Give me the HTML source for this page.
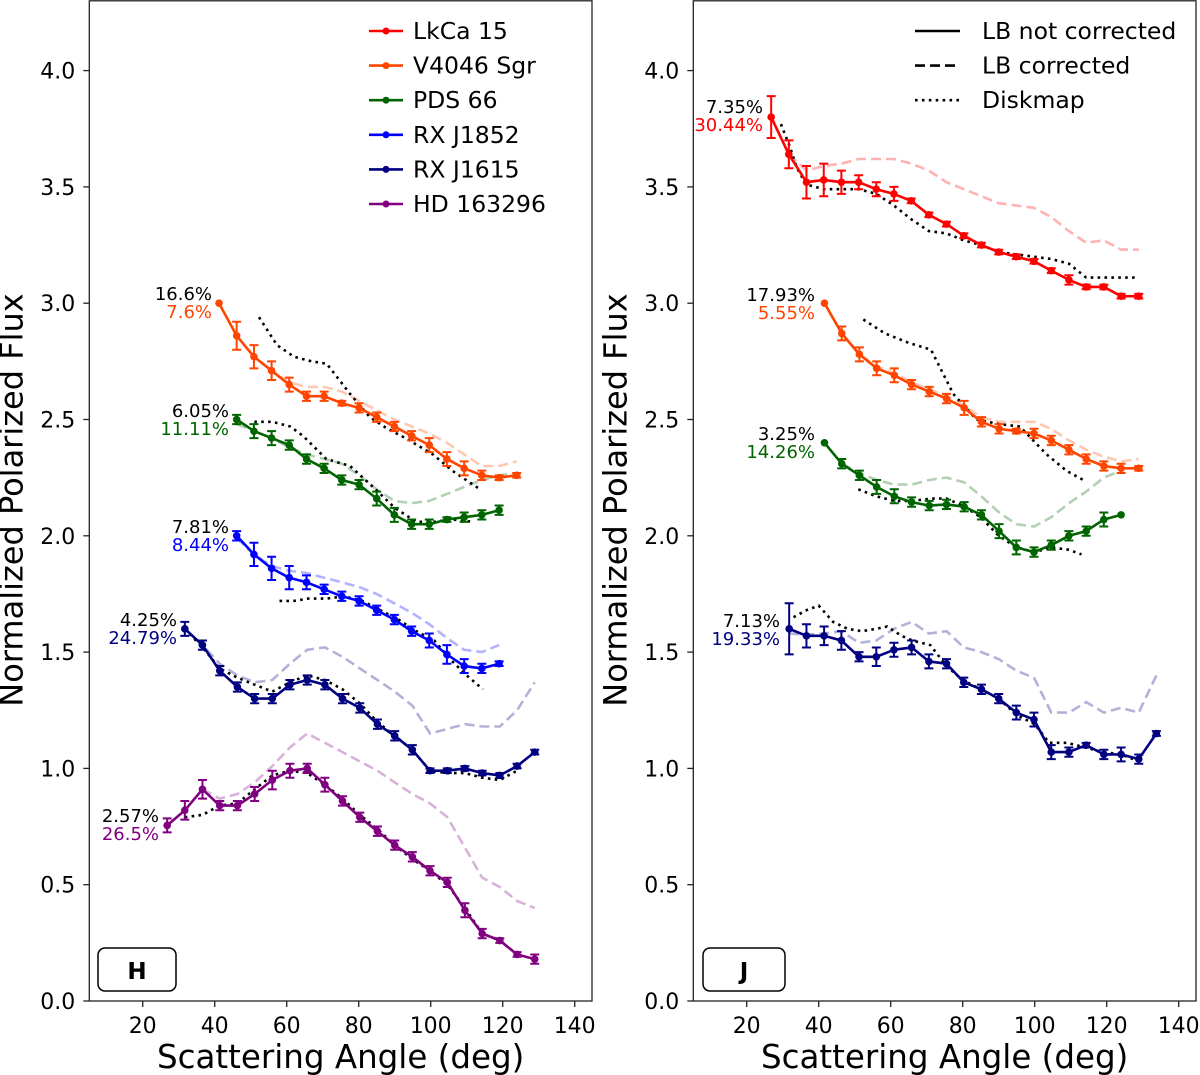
<!DOCTYPE html>
<html><head><meta charset="utf-8">
<style>
html,body{margin:0;padding:0;background:#fff;}
svg{display:block;font-family:"DejaVu Sans","Liberation Sans",sans-serif;}
</style></head>
<body>
<svg id="chart" width="1200" height="1075" viewBox="0 0 1200 1075" xmlns="http://www.w3.org/2000/svg">
<g id="layer"></g>
</svg>
<script>
// ---------- H band data ----------
const hV4046Angles=[41.2,46.1,50.9,55.8,60.7,65.5,70.4,75.3,80.1,85,89.9,94.7,99.6,104.5,109.3,114.2,119,123.9];
const hV4046Vals=[3.00,2.86,2.77,2.71,2.65,2.60,2.60,2.57,2.55,2.51,2.47,2.43,2.39,2.33,2.29,2.26,2.25,2.26];
const hV4046Err=[0,0.06,0.05,0.04,0.03,0.02,0.02,0.01,0.02,0.02,0.02,0.02,0.03,0.03,0.03,0.02,0.01,0.01];
const hV4046DashA=[46.1,50.9,55.8,60.7,65.5,70.4,75.3,80.1,85,89.9,94.7,99.6,104.5,109.3,114.2,119,123.9];
const hV4046Dash=[2.86,2.77,2.71,2.66,2.64,2.64,2.62,2.58,2.54,2.50,2.47,2.44,2.40,2.35,2.30,2.30,2.32];
const hV4046DotA=[52.3,57.3,62,67,71.1,77.6,83.1,88,93,100.6,106,113.7];
const hV4046Dot=[2.94,2.82,2.77,2.75,2.74,2.61,2.51,2.46,2.42,2.35,2.28,2.20];

const hPdsAngles=[46.1,50.9,55.8,60.7,65.5,70.4,75.3,80.1,85,89.9,94.7,99.6,104.5,109.3,114.2,119];
const hPdsVals=[2.50,2.45,2.42,2.39,2.33,2.29,2.24,2.22,2.16,2.09,2.05,2.05,2.07,2.08,2.09,2.11];
const hPdsErr=[0.02,0.03,0.03,0.02,0.02,0.02,0.02,0.02,0.03,0.03,0.02,0.02,0.01,0.02,0.02,0.02];
const hPdsDashA=[46.1,50.9,55.8,60.7,65.5,70.4,75.3,80.1,85,89.9,94.7,99.6,104.5,109.3,114.2,119,124];
const hPdsDash=[2.48,2.45,2.42,2.38,2.35,2.33,2.31,2.26,2.20,2.15,2.14,2.15,2.18,2.21,2.24,2.26,2.27];
const hPdsDotA=[51,56,61,64.5,71,77.6,84,90,96,101,106,111.8];
const hPdsDot=[2.49,2.49,2.47,2.43,2.33,2.30,2.21,2.12,2.06,2.06,2.07,2.06];

const hJ1852Angles=[46.1,50.9,55.8,60.7,65.5,70.4,75.3,80.1,85,89.9,94.7,99.6,104.5,109.3,114.2,119];
const hJ1852Vals=[2.00,1.92,1.86,1.82,1.80,1.77,1.74,1.72,1.68,1.64,1.59,1.55,1.49,1.44,1.43,1.45];
const hJ1852Err=[0.02,0.05,0.05,0.05,0.03,0.02,0.02,0.02,0.02,0.02,0.02,0.03,0.04,0.03,0.02,0.01];
const hJ1852Dash=[1.99,1.92,1.87,1.85,1.84,1.82,1.80,1.78,1.75,1.71,1.67,1.62,1.56,1.51,1.50,1.53];
const hJ1852DotA=[58,62,66,71,76,81,86,91,96,101,106,110,114.5];
const hJ1852Dot=[1.72,1.72,1.73,1.73,1.74,1.72,1.68,1.64,1.59,1.55,1.46,1.40,1.34];

const hJ1615Angles=[31.7,36.6,41.4,46.3,51.1,56,60.9,65.7,70.6,75.5,80.3,85.2,90,94.9,99.8,104.6,109.5,114.3,119.2,124,128.9];
const hJ1615Vals=[1.60,1.53,1.42,1.35,1.30,1.30,1.36,1.38,1.36,1.30,1.26,1.19,1.14,1.08,0.99,0.99,1.00,0.98,0.97,1.01,1.07];
const hJ1615Err=[0.03,0.02,0.02,0.02,0.02,0.02,0.02,0.02,0.02,0.02,0.02,0.02,0.02,0.02,0.01,0.01,0.01,0.01,0.01,0.01,0.01];
const hJ1615Dash=[1.60,1.53,1.45,1.40,1.37,1.38,1.45,1.51,1.52,1.48,1.43,1.38,1.33,1.27,1.15,1.17,1.19,1.18,1.18,1.25,1.37];
const hJ1615DotA=[31.7,36.6,41.4,46.3,51.1,56,60.9,65.7,70.6,75.5,80.3,85.2,90,94.9,99.8,104.6,109.5,114.3,119.2,124];
const hJ1615Dot=[1.60,1.52,1.43,1.39,1.36,1.33,1.37,1.40,1.38,1.34,1.28,1.20,1.14,1.08,0.99,0.98,0.98,0.96,0.95,0.99];

const hHdAngles=[26.8,31.7,36.6,41.4,46.3,51.1,56,60.9,65.7,70.6,75.5,80.3,85.2,90,94.9,99.8,104.6,109.5,114.3,119.2,124,128.9];
const hHdVals=[0.755,0.82,0.91,0.84,0.84,0.89,0.95,0.99,1.00,0.93,0.86,0.79,0.73,0.67,0.62,0.56,0.51,0.39,0.29,0.26,0.20,0.18];
const hHdErr=[0.03,0.04,0.04,0.02,0.02,0.03,0.04,0.03,0.02,0.03,0.02,0.02,0.02,0.02,0.02,0.02,0.02,0.03,0.02,0.01,0.01,0.02];
const hHdDashA=[36.6,41.4,46.3,51.1,56,60.9,65.7,70.6,75.5,80.3,85.2,90,94.9,99.8,104.6,109.5,114.3,119.2,124,128.9];
const hHdDash=[0.91,0.87,0.89,0.94,1.01,1.09,1.15,1.11,1.07,1.03,0.99,0.94,0.89,0.85,0.79,0.66,0.53,0.49,0.43,0.40];
const hHdDotA=[31.7,36.6,41.4,46.3,51.1,56,60.9,65.7,70.6,75.5,80.3,85.2,90,94.9,99.8,104.6,109.5,114.3,119.2,124];
const hHdDot=[0.79,0.80,0.84,0.85,0.91,0.97,0.99,0.98,0.93,0.87,0.80,0.74,0.67,0.61,0.56,0.50,0.40,0.29,0.26,0.20];

// ---------- J band data ----------
const jLkAngles=[26.8,31.7,36.6,41.4,46.3,51.1,56,60.9,65.7,70.6,75.5,80.3,85.2,90,94.9,99.8,104.6,109.5,114.3,119.2,124,128.9];
const jLkVals=[3.80,3.64,3.52,3.53,3.52,3.52,3.49,3.47,3.44,3.38,3.34,3.29,3.25,3.22,3.20,3.18,3.14,3.10,3.07,3.07,3.03,3.03];
const jLkErr=[0.09,0.06,0.07,0.07,0.05,0.03,0.03,0.03,0.01,0.01,0.01,0.01,0.01,0.01,0.01,0.01,0.01,0.02,0.01,0.01,0.01,0.01];
const jLkDashA=[31.7,36.6,41.4,46.3,51.1,56,60.9,65.7,70.6,75.5,80.3,85.2,90,94.9,99.8,104.6,109.5,114.3,119.2,124,128.9];
const jLkDash=[3.64,3.57,3.59,3.60,3.62,3.62,3.62,3.60,3.57,3.52,3.49,3.46,3.43,3.42,3.41,3.37,3.31,3.26,3.27,3.23,3.23];
const jLkDotA=[29.5,31.8,34,36.6,41.5,46.3,51.2,56,60.9,65.8,70.6,75.5,80.3,85.2,90,94.9,99.8,104.6,109.5,114.3,119.2,124,128.9];
const jLkDot=[3.77,3.68,3.58,3.51,3.49,3.49,3.49,3.47,3.42,3.36,3.31,3.30,3.27,3.25,3.22,3.21,3.20,3.19,3.17,3.11,3.11,3.11,3.11];

const jV4046Angles=[41.6,46.4,51.3,56.1,61,65.8,70.7,75.5,80.4,85.2,90.1,94.9,99.8,104.6,109.5,114.3,119.2,124,128.9];
const jV4046Vals=[3.00,2.87,2.78,2.72,2.69,2.65,2.62,2.59,2.55,2.49,2.46,2.45,2.44,2.41,2.37,2.33,2.30,2.29,2.29];
const jV4046Err=[0,0.03,0.03,0.03,0.03,0.02,0.02,0.02,0.03,0.02,0.02,0.01,0.02,0.02,0.02,0.02,0.02,0.02,0.01];
const jV4046DashA=[46.4,51.3,56.1,61,65.8,70.7,75.5,80.4,85.2,90.1,94.9,99.8,104.6,109.5,114.3,119.2,124,128.9];
const jV4046Dash=[2.87,2.78,2.73,2.70,2.66,2.63,2.60,2.56,2.51,2.49,2.49,2.49,2.46,2.41,2.37,2.34,2.32,2.33];
const jV4046DotA=[52.4,58.4,64.9,71.2,77.4,83.8,90.3,95.9,103.3,108.8,113.5];
const jV4046Dot=[2.93,2.87,2.83,2.80,2.61,2.50,2.48,2.47,2.35,2.28,2.24];

const jPdsAngles=[41.6,46.4,51.3,56.1,61,65.8,70.7,75.5,80.4,85.2,90.1,94.9,99.8,104.6,109.5,114.3,119.2,124];
const jPdsVals=[2.40,2.31,2.26,2.21,2.17,2.145,2.13,2.135,2.125,2.09,2.02,1.95,1.93,1.96,2.00,2.02,2.07,2.09];
const jPdsErr=[0,0.02,0.02,0.03,0.03,0.02,0.02,0.02,0.02,0.02,0.03,0.03,0.02,0.02,0.02,0.02,0.03,0];
const jPdsDashA=[46.4,51.3,56.1,61,65.8,70.7,75.5,80.4,85.2,90.1,94.9,99.8,104.6,109.5,114.3,119.2,124];
const jPdsDash=[2.31,2.27,2.24,2.22,2.22,2.24,2.25,2.23,2.17,2.10,2.05,2.04,2.08,2.14,2.19,2.25,2.28];
const jPdsDotA=[51,56,61,66,71,75.5,80,85,90,95,100,104.6,109.5,113];
const jPdsDot=[2.20,2.17,2.15,2.15,2.16,2.16,2.13,2.08,2.00,1.95,1.93,1.95,1.94,1.92];

const jJ1615Angles=[31.8,36.6,41.5,46.3,51.2,56,60.9,65.8,70.6,75.5,80.3,85.2,90,94.9,99.8,104.6,109.5,114.3,119.2,124,128.9,133.8];
const jJ1615Vals=[1.60,1.57,1.57,1.55,1.48,1.48,1.51,1.52,1.46,1.45,1.37,1.34,1.30,1.24,1.21,1.07,1.07,1.10,1.06,1.06,1.04,1.15];
const jJ1615Err=[0.11,0.05,0.04,0.04,0.02,0.04,0.03,0.03,0.03,0.02,0.02,0.02,0.02,0.03,0.03,0.03,0.02,0.01,0.02,0.03,0.02,0.01];
const jJ1615Dash=[1.58,1.575,1.58,1.59,1.54,1.55,1.60,1.63,1.58,1.59,1.52,1.50,1.47,1.42,1.39,1.24,1.24,1.285,1.24,1.26,1.24,1.40];
const jJ1615DotA=[33,36.6,40,44,48,52,56,59,63,66,71,75.5,80,85,90,95,100,104,109,114,119,124,129];
const jJ1615Dot=[1.65,1.68,1.70,1.63,1.60,1.59,1.60,1.61,1.57,1.55,1.53,1.44,1.38,1.34,1.30,1.23,1.19,1.11,1.11,1.09,1.07,1.06,1.03];

const yTicks=[0.0,0.5,1.0,1.5,2.0,2.5,3.0,3.5,4.0];
const xTicks=[20,40,60,80,100,120,140];
const legendNames=["LkCa 15","V4046 Sgr","PDS 66","RX J1852","RX J1615","HD 163296"];
const legendColors=["#ff0000","#ff4500","#006400","#0000ff","#000080","#800080"];
const styleNames=["LB not corrected","LB corrected","Diskmap"];

// ---------- drawing ----------
const NS="http://www.w3.org/2000/svg";
const layer=document.getElementById('layer');
function mk(tag,attrs,parent){const e=document.createElementNS(NS,tag);for(const k in attrs)e.setAttribute(k,attrs[k]);(parent||layer).appendChild(e);return e;}
const Y0=1001, YS=232.6;
function yPix(v){return Y0-v*YS;}
function makeX(x20){return function(a){return x20+(a-20)*3.6;};}

function pathD(xf,angles,vals){return angles.map((a,i)=>(i?'L':'M')+xf(a).toFixed(1)+','+yPix(vals[i]).toFixed(1)).join(' ');}

function drawDashed(g,xf,angles,vals,color,name){
  const p=mk('path',{d:pathD(xf,angles,vals),fill:'none',stroke:color,'stroke-opacity':0.3,'stroke-width':2.6,'stroke-dasharray':'10,5'},g);
  
  
}
function drawDotted(g,xf,angles,vals,name){
  const p=mk('path',{d:pathD(xf,angles,vals),fill:'none',stroke:'#000','stroke-width':2.6,'stroke-dasharray':'2.6,4.3'},g);
  
  
}
function drawSolid(g,xf,angles,vals,errs,color,name){
  const p=mk('path',{d:pathD(xf,angles,vals),fill:'none',stroke:color,'stroke-width':2.6,'stroke-linejoin':'round'},g);
  
  
  angles.forEach((a,i)=>{
    const x=xf(a), y=yPix(vals[i]), e=errs[i]*YS;
    if(e>0.5){
      const eb=mk('path',{d:`M${x},${y-e}V${y+e}M${x-4.5},${y-e}H${x+4.5}M${x-4.5},${y+e}H${x+4.5}`,stroke:color,'stroke-width':2,fill:'none'},g);
      
      
    }
    const c=mk('circle',{cx:x,cy:y,r:3.8,fill:color},g);
    
    
  });
}
function txt(s,x,y,attrs,g){const t=mk('text',Object.assign({x:x,y:y},attrs),g);t.textContent=s;return t;}

function drawPanel(x0,x1,x20,id){
  const g=mk('g',{});
  
  
  const xf=makeX(x20);
  const fr=mk('rect',{x:x0,y:0.8,width:x1-x0,height:Y0-0.8,fill:'none',stroke:'#222','stroke-width':1.3},g);
  
  
  yTicks.forEach(v=>{
    const y=yPix(v);
    const tk=mk('line',{x1:x0-6,x2:x0,y1:y,y2:y,stroke:'#222','stroke-width':1.3},g);
    
    
    const t=txt(v.toFixed(1),x0-14,y+8,{'font-size':22,'text-anchor':'end',fill:'#000'},g);
    
    
  });
  xTicks.forEach(a=>{
    const x=xf(a);
    const tk=mk('line',{x1:x,x2:x,y1:Y0,y2:Y0+6,stroke:'#222','stroke-width':1.3},g);
    
    
    const t=txt(String(a),x,Y0+32,{'font-size':22,'text-anchor':'middle',fill:'#000'},g);
    
    
  });
  const xl=txt('Scattering Angle (deg)',(x0+x1)/2,1068,{'font-size':32.5,'text-anchor':'middle',fill:'#000'},g);
  
  
  const yx=x0-67, yy=500;
  const yl=txt('Normalized Polarized Flux',yx,yy,{'font-size':32,'text-anchor':'middle',fill:'#000',transform:`rotate(-90 ${yx} ${yy})`},g);
  
  
  return {g:g,xf:xf};
}

// Left panel (H)
const L=drawPanel(89.3,592,142.7,'h-band');
drawDashed(L.g,L.xf,hV4046DashA,hV4046Dash,'#ff4500','h-v4046');
drawDashed(L.g,L.xf,hPdsDashA,hPdsDash,'#006400','h-pds66');
drawDashed(L.g,L.xf,hJ1852Angles,hJ1852Dash,'#0000ff','h-rxj1852');
drawDashed(L.g,L.xf,hJ1615Angles,hJ1615Dash,'#000080','h-rxj1615');
drawDashed(L.g,L.xf,hHdDashA,hHdDash,'#800080','h-hd163296');
drawDotted(L.g,L.xf,hV4046DotA,hV4046Dot,'h-v4046');
drawDotted(L.g,L.xf,hPdsDotA,hPdsDot,'h-pds66');
drawDotted(L.g,L.xf,hJ1852DotA,hJ1852Dot,'h-rxj1852');
drawDotted(L.g,L.xf,hJ1615DotA,hJ1615Dot,'h-rxj1615');
drawDotted(L.g,L.xf,hHdDotA,hHdDot,'h-hd163296');
drawSolid(L.g,L.xf,hV4046Angles,hV4046Vals,hV4046Err,'#ff4500','h-v4046');
drawSolid(L.g,L.xf,hPdsAngles,hPdsVals,hPdsErr,'#006400','h-pds66');
drawSolid(L.g,L.xf,hJ1852Angles,hJ1852Vals,hJ1852Err,'#0000ff','h-rxj1852');
drawSolid(L.g,L.xf,hJ1615Angles,hJ1615Vals,hJ1615Err,'#000080','h-rxj1615');
drawSolid(L.g,L.xf,hHdAngles,hHdVals,hHdErr,'#800080','h-hd163296');

// Right panel (J)
const R=drawPanel(693.3,1196,746.7,'j-band');
drawDashed(R.g,R.xf,jLkDashA,jLkDash,'#ff0000','j-lkca15');
drawDashed(R.g,R.xf,jV4046DashA,jV4046Dash,'#ff4500','j-v4046');
drawDashed(R.g,R.xf,jPdsDashA,jPdsDash,'#006400','j-pds66');
drawDashed(R.g,R.xf,jJ1615Angles,jJ1615Dash,'#000080','j-rxj1615');
drawDotted(R.g,R.xf,jLkDotA,jLkDot,'j-lkca15');
drawDotted(R.g,R.xf,jV4046DotA,jV4046Dot,'j-v4046');
drawDotted(R.g,R.xf,jPdsDotA,jPdsDot,'j-pds66');
drawDotted(R.g,R.xf,jJ1615DotA,jJ1615Dot,'j-rxj1615');
drawSolid(R.g,R.xf,jLkAngles,jLkVals,jLkErr,'#ff0000','j-lkca15');
drawSolid(R.g,R.xf,jV4046Angles,jV4046Vals,jV4046Err,'#ff4500','j-v4046');
drawSolid(R.g,R.xf,jPdsAngles,jPdsVals,jPdsErr,'#006400','j-pds66');
drawSolid(R.g,R.xf,jJ1615Angles,jJ1615Vals,jJ1615Err,'#000080','j-rxj1615');

// Annotations
const notes=[
 ['16.6%','7.6%','#ff4500',212,300],
 ['6.05%','11.11%','#006400',229,417],
 ['7.81%','8.44%','#0000ff',229,533],
 ['4.25%','24.79%','#000080',177,626],
 ['2.57%','26.5%','#800080',159,822],
 ['7.35%','30.44%','#ff0000',763,113],
 ['17.93%','5.55%','#ff4500',815,301],
 ['3.25%','14.26%','#006400',815,440],
 ['7.13%','19.33%','#000080',780,627]
];
notes.forEach(n=>{
  const a=txt(n[0],n[3],n[4],{'font-size':18,'text-anchor':'end',fill:'#000'});
  
  
  const b=txt(n[1],n[3],n[4]+18,{'font-size':18,'text-anchor':'end',fill:n[2]});
  
  
});

// Left legend
const lg=mk('g',{});


legendNames.forEach((nm,i)=>{
  const y=31+i*34.6;
  const ln=mk('line',{x1:369,x2:403,y1:y,y2:y,stroke:legendColors[i],'stroke-width':2.6},lg);
  
  
  mk('circle',{cx:386,cy:y,r:3.5,fill:legendColors[i]},lg);
  const t=txt(nm,413,y+8,{'font-size':23.5,fill:'#000'},lg);
  
  
});
// Right legend
const rg=mk('g',{});


const dashes=['none','10,5','2.6,4.3'];
styleNames.forEach((nm,i)=>{
  const y=31+i*34.6;
  const ln=mk('line',{x1:915,x2:960,y1:y,y2:y,stroke:'#000','stroke-width':2.6,'stroke-dasharray':dashes[i]},rg);
  
  
  const t=txt(nm,982,y+8,{'font-size':23.5,fill:'#000'},rg);
  
  
});

// Band boxes
[['H',98,176],['J',703,785]].forEach(b=>{
  const bx=mk('rect',{x:b[1],y:948,width:b[2]-b[1],height:43,rx:7,fill:'#fff',stroke:'#000','stroke-width':1.5});
  
  
  const t=txt(b[0],(b[1]+b[2])/2,979,{'font-size':23,'font-weight':'bold','text-anchor':'middle',fill:'#000'});
  
  
});
</script>
</body></html>
